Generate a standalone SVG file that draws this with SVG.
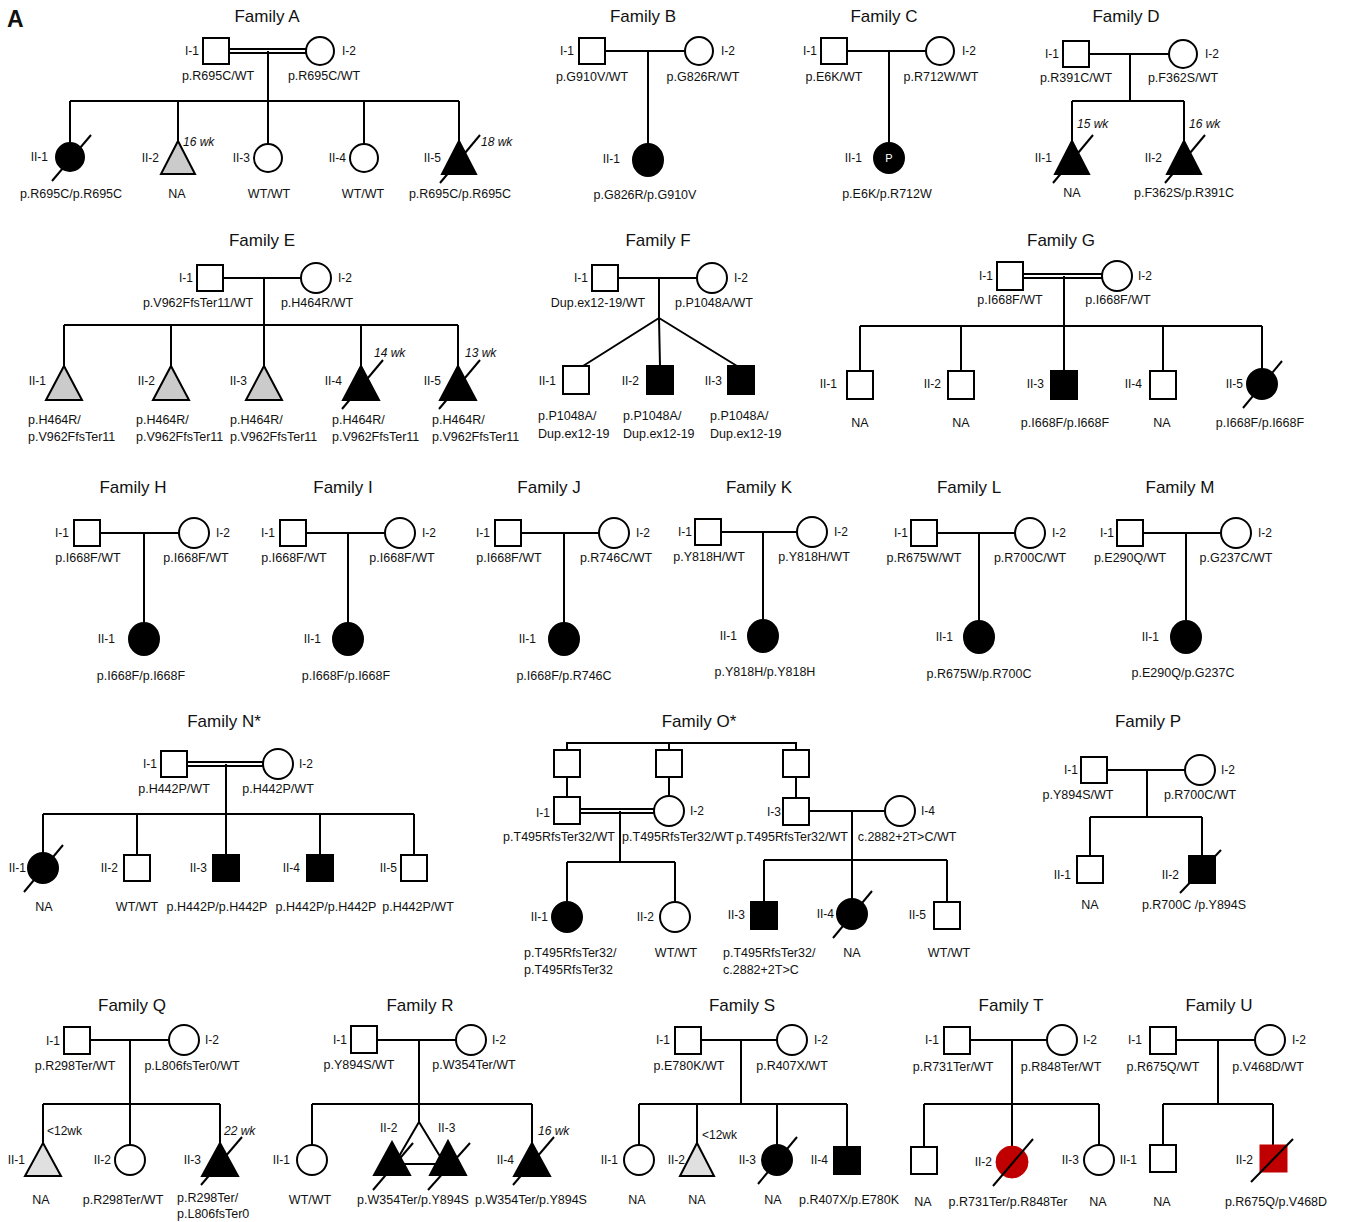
<svg xmlns="http://www.w3.org/2000/svg" width="1348" height="1222" viewBox="0 0 1348 1222">
<style>
text{font-family:"Liberation Sans",Arial,sans-serif;fill:#111}
.tt{font-size:17px;text-anchor:middle}
.id{font-size:12px;text-anchor:end}
.ids{font-size:12px}
.gt{font-size:12.5px;text-anchor:middle}
.gl{font-size:12.5px}
.wk{font-size:12px;font-style:italic}
.lt{font-size:12px}
.cn{stroke:#000;stroke-width:2;fill:none}
.o{fill:#fff;stroke:#000;stroke-width:2}
.b{fill:#000;stroke:#000;stroke-width:2}
.g{fill:#cbcbcb;stroke:#000;stroke-width:2}
.g2{fill:#e0e0e0;stroke:#000;stroke-width:2}
.r{fill:#c00000;stroke:#c00000;stroke-width:1}
.sl{stroke:#000;stroke-width:2}
</style>
<rect width="1348" height="1222" fill="#fff"/>
<text x="7" y="27" style="font-size:23px;font-weight:bold">A</text>

<!-- connectors -->
<g id="connectors" class="cn">
<!-- A -->
<path d="M229,49 H306 M229,53 H306 M268,51 V101 M70,101 H459 M70,101 V143 M178,101 V141 M268,101 V144 M364,101 V144 M459,101 V141"/>
<!-- B -->
<path d="M605,51 H685 M648,51 V144"/>
<!-- C -->
<path d="M847,51 H926 M889,51 V143"/>
<!-- D -->
<path d="M1089,54 H1169 M1130,54 V101 M1072,101 H1184 M1072,101 V141 M1184,101 V141"/>
<!-- E -->
<path d="M223,278 H301 M264,278 V325 M64,325 H458 M64,325 V366 M171,325 V366 M264,325 V366 M361,325 V366 M458,325 V366"/>
<!-- F -->
<path d="M618,278 H697 M659,278 V318 L583,366 M659,318 L660,366 M659,318 L737,366"/>
<!-- G -->
<path d="M1023,274 H1102 M1023,278 H1102 M1064,276 V326 M860,326 H1262 M860,326 V371 M961,326 V371 M1064,326 V371 M1163,326 V371 M1262,326 V369"/>
<!-- H I J K L M -->
<path d="M100,533 H179 M144,533 V623"/>
<path d="M306,533 H385 M348,533 V623"/>
<path d="M521,533 H599 M564,533 V623"/>
<path d="M721,532 H797 M763,532 V620"/>
<path d="M937,533 H1015 M979,533 V621"/>
<path d="M1143,533 H1221 M1186,533 V621"/>
<!-- N -->
<path d="M187,762 H263 M187,766 H263 M226,764 V814 M43,814 H414 M43,814 V853 M137,814 V855 M226,814 V855 M320,814 V855 M414,814 V855"/>
<!-- O -->
<path d="M567,750 V743 H796 V750 M669,743 V750 M567,777 V797 M669,777 V796 M796,777 V798"/>
<path d="M580,809 H654 M580,813 H654 M620,811 V862 M567,862 H675 M567,862 V902 M675,862 V902"/>
<path d="M809,811 H885 M852,811 V860 M764,860 H947 M764,860 V902 M852,860 V899 M947,860 V902"/>
<!-- P -->
<path d="M1107,770 H1185 M1147,770 V817 M1090,817 H1202 M1090,817 V856 M1202,817 V856"/>
<!-- Q -->
<path d="M90,1040 H169 M130,1040 V1104 M43,1104 H220 M43,1104 V1143 M130,1104 V1145 M220,1104 V1143"/>
<!-- R -->
<path d="M377,1040 H456 M419,1040 V1104 M312,1104 H532 M312,1104 V1145 M532,1104 V1143 M419,1104 V1122 L398,1158 M419,1122 L441,1158 M403,1164 H437"/>
<!-- S -->
<path d="M701,1040 H777 M741,1040 V1104 M639,1104 H847 M639,1104 V1145 M697,1104 V1143 M777,1104 V1145 M847,1104 V1147"/>
<!-- T -->
<path d="M970,1040 H1047 M1012,1040 V1104 M924,1104 H1099 M924,1104 V1147 M1012,1104 V1146 M1099,1104 V1145"/>
<!-- U -->
<path d="M1176,1040 H1255 M1218,1040 V1104 M1163,1104 H1273 M1163,1104 V1145 M1273,1104 V1145"/>
</g>

<!-- Family A -->
<g id="famA">
<text class="tt" x="267" y="22">Family A</text>
<g id="A-I-1"><rect class="o" x="203" y="38" width="26" height="26"/><text class="id" x="199" y="55">I-1</text><text class="gt" x="218" y="80">p.R695C/WT</text></g>
<g id="A-I-2"><circle class="o" cx="320" cy="51" r="14"/><text class="ids" x="342" y="55">I-2</text><text class="gt" x="324" y="80">p.R695C/WT</text></g>
<g id="A-II-1"><circle class="b" cx="70" cy="157" r="14"/><line class="sl" x1="52" y1="181" x2="91" y2="135"/><text class="id" x="48" y="161">II-1</text><text class="gt" x="71" y="198">p.R695C/p.R695C</text></g>
<g id="A-II-2"><polygon class="g" points="178,141 195,174 161,174"/><text class="wk" x="183" y="146">16 wk</text><text class="id" x="159" y="162">II-2</text><text class="gt" x="177" y="198">NA</text></g>
<g id="A-II-3"><circle class="o" cx="268" cy="158" r="14"/><text class="id" x="250" y="162">II-3</text><text class="gt" x="269" y="198">WT/WT</text></g>
<g id="A-II-4"><circle class="o" cx="364" cy="158" r="14"/><text class="id" x="346" y="162">II-4</text><text class="gt" x="363" y="198">WT/WT</text></g>
<g id="A-II-5"><polygon class="b" points="459,141 476,174 442,174"/><line class="sl" x1="440" y1="183" x2="480" y2="135"/><text class="wk" x="481" y="146">18 wk</text><text class="id" x="441" y="162">II-5</text><text class="gt" x="460" y="198">p.R695C/p.R695C</text></g>
</g>

<!-- Family B -->
<g id="famB">
<text class="tt" x="643" y="22">Family B</text>
<g id="B-I-1"><rect class="o" x="579" y="38" width="26" height="26"/><text class="id" x="574" y="55">I-1</text><text class="gt" x="592" y="81">p.G910V/WT</text></g>
<g id="B-I-2"><circle class="o" cx="699" cy="51" r="14"/><text class="ids" x="721" y="55">I-2</text><text class="gt" x="703" y="81">p.G826R/WT</text></g>
<g id="B-II-1"><ellipse class="b" cx="648" cy="160" rx="15" ry="16"/><text class="id" x="620" y="163">II-1</text><text class="gt" x="645" y="199">p.G826R/p.G910V</text></g>
</g>

<!-- Family C -->
<g id="famC">
<text class="tt" x="884" y="22">Family C</text>
<g id="C-I-1"><rect class="o" x="821" y="38" width="26" height="26"/><text class="id" x="817" y="55">I-1</text><text class="gt" x="834" y="81">p.E6K/WT</text></g>
<g id="C-I-2"><circle class="o" cx="940" cy="51" r="14"/><text class="ids" x="962" y="55">I-2</text><text class="gt" x="941" y="81">p.R712W/WT</text></g>
<g id="C-II-1"><circle class="b" cx="889" cy="158" r="15"/><text x="889" y="162" style="font-size:11px;text-anchor:middle;fill:#fff">P</text><text class="id" x="862" y="162">II-1</text><text class="gt" x="887" y="198">p.E6K/p.R712W</text></g>
</g>

<!-- Family D -->
<g id="famD">
<text class="tt" x="1126" y="22">Family D</text>
<g id="D-I-1"><rect class="o" x="1063" y="41" width="26" height="26"/><text class="id" x="1059" y="58">I-1</text><text class="gt" x="1076" y="82">p.R391C/WT</text></g>
<g id="D-I-2"><circle class="o" cx="1183" cy="54" r="14"/><text class="ids" x="1205" y="58">I-2</text><text class="gt" x="1183" y="82">p.F362S/WT</text></g>
<g id="D-II-1"><polygon class="b" points="1072,141 1089,174 1055,174"/><line class="sl" x1="1053" y1="183" x2="1093" y2="135"/><text class="wk" x="1077" y="128">15 wk</text><text class="id" x="1052" y="162">II-1</text><text class="gt" x="1072" y="197">NA</text></g>
<g id="D-II-2"><polygon class="b" points="1184,141 1201,174 1167,174"/><line class="sl" x1="1165" y1="183" x2="1205" y2="135"/><text class="wk" x="1189" y="128">16 wk</text><text class="id" x="1162" y="162">II-2</text><text class="gt" x="1184" y="197">p.F362S/p.R391C</text></g>
</g>

<!-- Family E -->
<g id="famE">
<text class="tt" x="262" y="246">Family E</text>
<g id="E-I-1"><rect class="o" x="197" y="265" width="26" height="26"/><text class="id" x="193" y="282">I-1</text><text class="gt" x="198" y="307">p.V962FfsTer11/WT</text></g>
<g id="E-I-2"><circle class="o" cx="316" cy="278" r="15"/><text class="ids" x="338" y="282">I-2</text><text class="gt" x="317" y="307">p.H464R/WT</text></g>
<g id="E-II-1"><polygon class="g" points="64,366 82,400 46,400"/><text class="id" x="46" y="385">II-1</text><text class="gl" x="28" y="424">p.H464R/</text><text class="gl" x="28" y="441">p.V962FfsTer11</text></g>
<g id="E-II-2"><polygon class="g" points="171,366 189,400 153,400"/><text class="id" x="155" y="385">II-2</text><text class="gl" x="136" y="424">p.H464R/</text><text class="gl" x="136" y="441">p.V962FfsTer11</text></g>
<g id="E-II-3"><polygon class="g" points="264,366 282,400 246,400"/><text class="id" x="247" y="385">II-3</text><text class="gl" x="230" y="424">p.H464R/</text><text class="gl" x="230" y="441">p.V962FfsTer11</text></g>
<g id="E-II-4"><polygon class="b" points="361,366 379,400 343,400"/><line class="sl" x1="342" y1="409" x2="383" y2="360"/><text class="wk" x="374" y="357">14 wk</text><text class="id" x="342" y="385">II-4</text><text class="gl" x="332" y="424">p.H464R/</text><text class="gl" x="332" y="441">p.V962FfsTer11</text></g>
<g id="E-II-5"><polygon class="b" points="458,366 476,400 440,400"/><line class="sl" x1="439" y1="409" x2="480" y2="360"/><text class="wk" x="465" y="357">13 wk</text><text class="id" x="441" y="385">II-5</text><text class="gl" x="432" y="424">p.H464R/</text><text class="gl" x="432" y="441">p.V962FfsTer11</text></g>
</g>

<!-- Family F -->
<g id="famF">
<text class="tt" x="658" y="246">Family F</text>
<g id="F-I-1"><rect class="o" x="592" y="265" width="26" height="26"/><text class="id" x="588" y="282">I-1</text><text class="gt" x="598" y="307">Dup.ex12-19/WT</text></g>
<g id="F-I-2"><circle class="o" cx="712" cy="278" r="15"/><text class="ids" x="734" y="282">I-2</text><text class="gt" x="714" y="307">p.P1048A/WT</text></g>
<g id="F-II-1"><rect class="o" x="563" y="366" width="26" height="28"/><text class="id" x="556" y="385">II-1</text><text class="gl" x="538" y="420">p.P1048A/</text><text class="gl" x="538" y="438">Dup.ex12-19</text></g>
<g id="F-II-2"><rect class="b" x="647" y="366" width="26" height="28"/><text class="id" x="639" y="385">II-2</text><text class="gl" x="623" y="420">p.P1048A/</text><text class="gl" x="623" y="438">Dup.ex12-19</text></g>
<g id="F-II-3"><rect class="b" x="728" y="366" width="26" height="28"/><text class="id" x="722" y="385">II-3</text><text class="gl" x="710" y="420">p.P1048A/</text><text class="gl" x="710" y="438">Dup.ex12-19</text></g>
</g>

<!-- Family G -->
<g id="famG">
<text class="tt" x="1061" y="246">Family G</text>
<g id="G-I-1"><rect class="o" x="997" y="262" width="26" height="28"/><text class="id" x="993" y="280">I-1</text><text class="gt" x="1010" y="304">p.I668F/WT</text></g>
<g id="G-I-2"><circle class="o" cx="1117" cy="276" r="15"/><text class="ids" x="1138" y="280">I-2</text><text class="gt" x="1118" y="304">p.I668F/WT</text></g>
<g id="G-II-1"><rect class="o" x="847" y="371" width="26" height="28"/><text class="id" x="837" y="388">II-1</text><text class="gt" x="860" y="427">NA</text></g>
<g id="G-II-2"><rect class="o" x="948" y="371" width="26" height="28"/><text class="id" x="941" y="388">II-2</text><text class="gt" x="961" y="427">NA</text></g>
<g id="G-II-3"><rect class="b" x="1051" y="371" width="26" height="28"/><text class="id" x="1044" y="388">II-3</text><text class="gt" x="1065" y="427">p.I668F/p.I668F</text></g>
<g id="G-II-4"><rect class="o" x="1150" y="371" width="26" height="28"/><text class="id" x="1142" y="388">II-4</text><text class="gt" x="1162" y="427">NA</text></g>
<g id="G-II-5"><circle class="b" cx="1262" cy="384" r="15"/><line class="sl" x1="1243" y1="408" x2="1282" y2="361"/><text class="id" x="1243" y="388">II-5</text><text class="gt" x="1260" y="427">p.I668F/p.I668F</text></g>
</g>

<!-- Family H -->
<g id="famH">
<text class="tt" x="133" y="493">Family H</text>
<g id="H-I-1"><rect class="o" x="74" y="520" width="26" height="26"/><text class="id" x="69" y="537">I-1</text><text class="gt" x="88" y="562">p.I668F/WT</text></g>
<g id="H-I-2"><circle class="o" cx="194" cy="533" r="15"/><text class="ids" x="216" y="537">I-2</text><text class="gt" x="196" y="562">p.I668F/WT</text></g>
<g id="H-II-1"><ellipse class="b" cx="144" cy="639" rx="15" ry="16"/><text class="id" x="115" y="643">II-1</text><text class="gt" x="141" y="680">p.I668F/p.I668F</text></g>
</g>

<!-- Family I -->
<g id="famI">
<text class="tt" x="343" y="493">Family I</text>
<g id="I-I-1"><rect class="o" x="280" y="520" width="26" height="26"/><text class="id" x="275" y="537">I-1</text><text class="gt" x="294" y="562">p.I668F/WT</text></g>
<g id="I-I-2"><circle class="o" cx="400" cy="533" r="15"/><text class="ids" x="422" y="537">I-2</text><text class="gt" x="402" y="562">p.I668F/WT</text></g>
<g id="I-II-1"><ellipse class="b" cx="348" cy="639" rx="15" ry="16"/><text class="id" x="321" y="643">II-1</text><text class="gt" x="346" y="680">p.I668F/p.I668F</text></g>
</g>

<!-- Family J -->
<g id="famJ">
<text class="tt" x="549" y="493">Family J</text>
<g id="J-I-1"><rect class="o" x="495" y="520" width="26" height="26"/><text class="id" x="490" y="537">I-1</text><text class="gt" x="509" y="562">p.I668F/WT</text></g>
<g id="J-I-2"><circle class="o" cx="614" cy="533" r="15"/><text class="ids" x="636" y="537">I-2</text><text class="gt" x="616" y="562">p.R746C/WT</text></g>
<g id="J-II-1"><ellipse class="b" cx="564" cy="639" rx="15" ry="16"/><text class="id" x="536" y="643">II-1</text><text class="gt" x="564" y="680">p.I668F/p.R746C</text></g>
</g>

<!-- Family K -->
<g id="famK">
<text class="tt" x="759" y="493">Family K</text>
<g id="K-I-1"><rect class="o" x="695" y="519" width="26" height="26"/><text class="id" x="692" y="536">I-1</text><text class="gt" x="709" y="561">p.Y818H/WT</text></g>
<g id="K-I-2"><circle class="o" cx="812" cy="532" r="15"/><text class="ids" x="834" y="536">I-2</text><text class="gt" x="814" y="561">p.Y818H/WT</text></g>
<g id="K-II-1"><ellipse class="b" cx="763" cy="636" rx="15" ry="16"/><text class="id" x="737" y="640">II-1</text><text class="gt" x="765" y="676">p.Y818H/p.Y818H</text></g>
</g>

<!-- Family L -->
<g id="famL">
<text class="tt" x="969" y="493">Family L</text>
<g id="L-I-1"><rect class="o" x="911" y="520" width="26" height="26"/><text class="id" x="908" y="537">I-1</text><text class="gt" x="924" y="562">p.R675W/WT</text></g>
<g id="L-I-2"><circle class="o" cx="1030" cy="533" r="15"/><text class="ids" x="1052" y="537">I-2</text><text class="gt" x="1030" y="562">p.R700C/WT</text></g>
<g id="L-II-1"><ellipse class="b" cx="979" cy="637" rx="15" ry="16"/><text class="id" x="953" y="641">II-1</text><text class="gt" x="979" y="678">p.R675W/p.R700C</text></g>
</g>

<!-- Family M -->
<g id="famM">
<text class="tt" x="1180" y="493">Family M</text>
<g id="M-I-1"><rect class="o" x="1117" y="520" width="26" height="26"/><text class="id" x="1114" y="537">I-1</text><text class="gt" x="1130" y="562">p.E290Q/WT</text></g>
<g id="M-I-2"><circle class="o" cx="1236" cy="533" r="15"/><text class="ids" x="1258" y="537">I-2</text><text class="gt" x="1236" y="562">p.G237C/WT</text></g>
<g id="M-II-1"><ellipse class="b" cx="1186" cy="637" rx="15" ry="16"/><text class="id" x="1159" y="641">II-1</text><text class="gt" x="1183" y="677">p.E290Q/p.G237C</text></g>
</g>

<!-- Family N* -->
<g id="famN">
<text class="tt" x="224" y="727">Family N*</text>
<g id="N-I-1"><rect class="o" x="161" y="751" width="26" height="26"/><text class="id" x="157" y="768">I-1</text><text class="gt" x="174" y="793">p.H442P/WT</text></g>
<g id="N-I-2"><circle class="o" cx="278" cy="764" r="15"/><text class="ids" x="299" y="768">I-2</text><text class="gt" x="278" y="793">p.H442P/WT</text></g>
<g id="N-II-1"><circle class="b" cx="43" cy="868" r="15"/><line class="sl" x1="24" y1="892" x2="63" y2="845"/><text class="id" x="26" y="872">II-1</text><text class="gt" x="44" y="911">NA</text></g>
<g id="N-II-2"><rect class="o" x="124" y="855" width="26" height="26"/><text class="id" x="118" y="872">II-2</text><text class="gt" x="137" y="911">WT/WT</text></g>
<g id="N-II-3"><rect class="b" x="213" y="855" width="26" height="26"/><text class="id" x="207" y="872">II-3</text><text class="gt" x="217" y="911">p.H442P/p.H442P</text></g>
<g id="N-II-4"><rect class="b" x="307" y="855" width="26" height="26"/><text class="id" x="300" y="872">II-4</text><text class="gt" x="326" y="911">p.H442P/p.H442P</text></g>
<g id="N-II-5"><rect class="o" x="401" y="855" width="26" height="26"/><text class="id" x="397" y="872">II-5</text><text class="gt" x="418" y="911">p.H442P/WT</text></g>
</g>

<!-- Family O* -->
<g id="famO">
<text class="tt" x="699" y="727">Family O*</text>
<g id="O-G0-1"><rect class="o" x="554" y="750" width="26" height="27"/></g>
<g id="O-G0-2"><rect class="o" x="656" y="750" width="26" height="27"/></g>
<g id="O-G0-3"><rect class="o" x="783" y="750" width="26" height="27"/></g>
<g id="O-I-1"><rect class="o" x="554" y="797" width="26" height="27"/><text class="id" x="550" y="817">I-1</text><text class="gt" x="559" y="841">p.T495RfsTer32/WT</text></g>
<g id="O-I-2"><circle class="o" cx="669" cy="811" r="15"/><text class="ids" x="690" y="815">I-2</text><text class="gt" x="678" y="841">p.T495RfsTer32/WT</text></g>
<g id="O-I-3"><rect class="o" x="783" y="798" width="26" height="27"/><text class="id" x="781" y="816">I-3</text><text class="gt" x="792" y="841">p.T495RfsTer32/WT</text></g>
<g id="O-I-4"><circle class="o" cx="900" cy="811" r="15"/><text class="ids" x="921" y="815">I-4</text><text class="gt" x="907" y="841">c.2882+2T&gt;C/WT</text></g>
<g id="O-II-1"><circle class="b" cx="567" cy="917" r="15"/><text class="id" x="548" y="921">II-1</text><text class="gl" x="524" y="957">p.T495RfsTer32/</text><text class="gl" x="524" y="974">p.T495RfsTer32</text></g>
<g id="O-II-2"><circle class="o" cx="675" cy="917" r="15"/><text class="id" x="654" y="921">II-2</text><text class="gt" x="676" y="957">WT/WT</text></g>
<g id="O-II-3"><rect class="b" x="751" y="902" width="26" height="27"/><text class="id" x="745" y="919">II-3</text><text class="gl" x="723" y="957">p.T495RfsTer32/</text><text class="gl" x="723" y="974">c.2882+2T&gt;C</text></g>
<g id="O-II-4"><circle class="b" cx="852" cy="914" r="15"/><line class="sl" x1="833" y1="938" x2="872" y2="891"/><text class="id" x="834" y="918">II-4</text><text class="gt" x="852" y="957">NA</text></g>
<g id="O-II-5"><rect class="o" x="934" y="902" width="26" height="27"/><text class="id" x="926" y="919">II-5</text><text class="gt" x="949" y="957">WT/WT</text></g>
</g>

<!-- Family P -->
<g id="famP">
<text class="tt" x="1148" y="727">Family P</text>
<g id="P-I-1"><rect class="o" x="1081" y="757" width="26" height="26"/><text class="id" x="1078" y="774">I-1</text><text class="gt" x="1078" y="799">p.Y894S/WT</text></g>
<g id="P-I-2"><circle class="o" cx="1200" cy="770" r="15"/><text class="ids" x="1221" y="774">I-2</text><text class="gt" x="1200" y="799">p.R700C/WT</text></g>
<g id="P-II-1"><rect class="o" x="1077" y="856" width="26" height="27"/><text class="id" x="1071" y="879">II-1</text><text class="gt" x="1090" y="909">NA</text></g>
<g id="P-II-2"><rect class="b" x="1189" y="856" width="26" height="27"/><line class="sl" x1="1180" y1="893" x2="1221" y2="850"/><text class="id" x="1179" y="879">II-2</text><text class="gt" x="1194" y="909">p.R700C /p.Y894S</text></g>
</g>

<!-- Family Q -->
<g id="famQ">
<text class="tt" x="132" y="1011">Family Q</text>
<g id="Q-I-1"><rect class="o" x="64" y="1027" width="26" height="27"/><text class="id" x="60" y="1045">I-1</text><text class="gt" x="75" y="1070">p.R298Ter/WT</text></g>
<g id="Q-I-2"><circle class="o" cx="184" cy="1040" r="15"/><text class="ids" x="205" y="1044">I-2</text><text class="gt" x="192" y="1070">p.L806fsTer0/WT</text></g>
<g id="Q-II-1"><polygon class="g2" points="43,1143 61,1176 25,1176"/><text class="lt" x="47" y="1135">&lt;12wk</text><text class="id" x="25" y="1164">II-1</text><text class="gt" x="41" y="1204">NA</text></g>
<g id="Q-II-2"><circle class="o" cx="130" cy="1160" r="15"/><text class="id" x="111" y="1164">II-2</text><text class="gt" x="123" y="1204">p.R298Ter/WT</text></g>
<g id="Q-II-3"><polygon class="b" points="220,1143 238,1176 202,1176"/><line class="sl" x1="201" y1="1185" x2="242" y2="1137"/><text class="wk" x="224" y="1135">22 wk</text><text class="id" x="201" y="1164">II-3</text><text class="gl" x="177" y="1202">p.R298Ter/</text><text class="gl" x="177" y="1218">p.L806fsTer0</text></g>
</g>

<!-- Family R -->
<g id="famR">
<text class="tt" x="420" y="1011">Family R</text>
<g id="R-I-1"><rect class="o" x="351" y="1026" width="26" height="27"/><text class="id" x="347" y="1044">I-1</text><text class="gt" x="359" y="1069">p.Y894S/WT</text></g>
<g id="R-I-2"><circle class="o" cx="471" cy="1040" r="15"/><text class="ids" x="492" y="1044">I-2</text><text class="gt" x="474" y="1069">p.W354Ter/WT</text></g>
<g id="R-II-1"><circle class="o" cx="312" cy="1160" r="15"/><text class="id" x="290" y="1164">II-1</text><text class="gt" x="310" y="1204">WT/WT</text></g>
<g id="R-II-2"><polygon class="b" points="392,1142 410,1175 374,1175"/><line class="sl" x1="373" y1="1190" x2="413" y2="1143"/><text class="lt" x="380" y="1132">II-2</text></g>
<g id="R-II-3"><polygon class="b" points="448,1141 466,1175 430,1175"/><line class="sl" x1="428" y1="1190" x2="470" y2="1143"/><text class="lt" x="438" y="1132">II-3</text><text class="gt" x="413" y="1204">p.W354Ter/p.Y894S</text></g>
<g id="R-II-4"><polygon class="b" points="532,1143 550,1176 514,1176"/><line class="sl" x1="513" y1="1185" x2="554" y2="1137"/><text class="wk" x="538" y="1135">16 wk</text><text class="id" x="514" y="1164">II-4</text><text class="gt" x="531" y="1204">p.W354Ter/p.Y894S</text></g>
</g>

<!-- Family S -->
<g id="famS">
<text class="tt" x="742" y="1011">Family S</text>
<g id="S-I-1"><rect class="o" x="675" y="1027" width="26" height="27"/><text class="id" x="670" y="1044">I-1</text><text class="gt" x="689" y="1070">p.E780K/WT</text></g>
<g id="S-I-2"><circle class="o" cx="792" cy="1040" r="15"/><text class="ids" x="814" y="1044">I-2</text><text class="gt" x="792" y="1070">p.R407X/WT</text></g>
<g id="S-II-1"><circle class="o" cx="639" cy="1160" r="15"/><text class="id" x="618" y="1164">II-1</text><text class="gt" x="637" y="1204">NA</text></g>
<g id="S-II-2"><polygon class="g2" points="697,1143 714,1176 680,1176"/><text class="lt" x="702" y="1139">&lt;12wk</text><text class="id" x="685" y="1164">II-2</text><text class="gt" x="697" y="1204">NA</text></g>
<g id="S-II-3"><circle class="b" cx="777" cy="1160" r="15"/><line class="sl" x1="758" y1="1184" x2="797" y2="1137"/><text class="id" x="756" y="1164">II-3</text><text class="gt" x="773" y="1204">NA</text></g>
<g id="S-II-4"><rect class="b" x="834" y="1147" width="26" height="27"/><text class="id" x="828" y="1164">II-4</text><text class="gt" x="849" y="1204">p.R407X/p.E780K</text></g>
</g>

<!-- Family T -->
<g id="famT">
<text class="tt" x="1011" y="1011">Family T</text>
<g id="T-I-1"><rect class="o" x="944" y="1027" width="26" height="27"/><text class="id" x="939" y="1044">I-1</text><text class="gt" x="953" y="1071">p.R731Ter/WT</text></g>
<g id="T-I-2"><circle class="o" cx="1062" cy="1040" r="15"/><text class="ids" x="1083" y="1044">I-2</text><text class="gt" x="1061" y="1071">p.R848Ter/WT</text></g>
<g id="T-II-1"><rect class="o" x="911" y="1147" width="26" height="27"/><text class="gt" x="923" y="1206">NA</text></g>
<g id="T-II-2"><circle class="r" cx="1012" cy="1162" r="16"/><line class="sl" x1="993" y1="1186" x2="1033" y2="1139"/><text class="id" x="992" y="1166">II-2</text><text class="gt" x="1008" y="1206">p.R731Ter/p.R848Ter</text></g>
<g id="T-II-3"><circle class="o" cx="1099" cy="1160" r="15"/><text class="id" x="1079" y="1164">II-3</text><text class="gt" x="1098" y="1206">NA</text></g>
</g>

<!-- Family U -->
<g id="famU">
<text class="tt" x="1219" y="1011">Family U</text>
<g id="U-I-1"><rect class="o" x="1150" y="1027" width="26" height="27"/><text class="id" x="1142" y="1044">I-1</text><text class="gt" x="1163" y="1071">p.R675Q/WT</text></g>
<g id="U-I-2"><circle class="o" cx="1270" cy="1040" r="15"/><text class="ids" x="1292" y="1044">I-2</text><text class="gt" x="1268" y="1071">p.V468D/WT</text></g>
<g id="U-II-1"><rect class="o" x="1150" y="1145" width="26" height="27"/><text class="id" x="1137" y="1164">II-1</text><text class="gt" x="1162" y="1206">NA</text></g>
<g id="U-II-2"><rect class="r" x="1260" y="1145" width="27" height="27"/><line class="sl" x1="1251" y1="1182" x2="1293" y2="1139"/><text class="id" x="1253" y="1164">II-2</text><text class="gt" x="1276" y="1206">p.R675Q/p.V468D</text></g>
</g>
</svg>
